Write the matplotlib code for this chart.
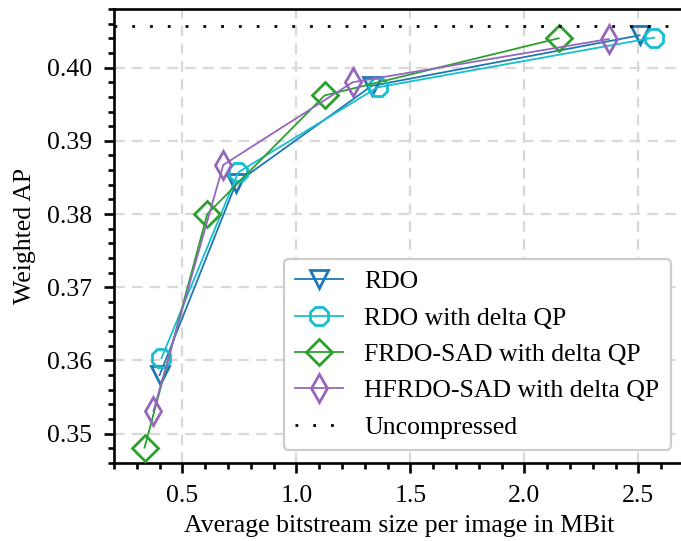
import matplotlib
matplotlib.use("Agg")
import matplotlib.pyplot as plt
from matplotlib.ticker import MultipleLocator

# Data
rdo_x = [0.40, 0.735, 1.33, 2.505]
rdo_y = [0.3580, 0.3842, 0.3975, 0.4044]
rdo_dqp_x = [0.408, 0.745, 1.356, 2.57]
rdo_dqp_y = [0.3603, 0.3857, 0.3973, 0.4041]
frdo_x = [0.334, 0.609, 1.124, 2.15]
frdo_y = [0.3481, 0.3800, 0.3962, 0.4040]
hfrdo_x = [0.373, 0.679, 1.247, 2.37]
hfrdo_y = [0.3531, 0.3867, 0.3980, 0.4039]
uncompressed = 0.4057

labels = ["RDO", "RDO with delta QP", "FRDO-SAD with delta QP",
          "HFRDO-SAD with delta QP", "Uncompressed"]

plt.rcParams['font.family'] = ['Liberation Serif', 'DejaVu Serif']
plt.rcParams['mathtext.fontset'] = 'stix'
FS = 18.5

fig = plt.figure(figsize=(6.81, 5.41), dpi=100)
ax = fig.add_axes([114/681, 78/541, (684-114)/681, (463-9)/541])

ms = 13.5
mew = 2.0
lw = 1.3
ax.plot(rdo_x, rdo_y, marker='v', color='#1f77b4', mfc='none', ms=ms, mew=mew, lw=lw, label=labels[0], zorder=3)
ax.plot(rdo_dqp_x, rdo_dqp_y, marker='8', color='#17becf', mfc='none', ms=ms, mew=mew, lw=lw, label=labels[1], zorder=3)
ax.plot(frdo_x, frdo_y, marker='D', color='#2ca02c', mfc='none', ms=ms*0.95, mew=mew, lw=lw, label=labels[2], zorder=3)
ax.plot(hfrdo_x, hfrdo_y, marker='d', color='#9467bd', mfc='none', ms=ms*1.05, mew=mew, lw=lw, label=labels[3], zorder=3)
ax.axhline(uncompressed, color='black', lw=2.0, linestyle=(0, (1, 5.4)), label=labels[4], zorder=3)

ax.set_xlim(0.2, 2.7)
ax.set_ylim(0.346, 0.408)
ax.xaxis.set_major_locator(MultipleLocator(0.5))
ax.xaxis.set_minor_locator(MultipleLocator(0.1))
ax.yaxis.set_major_locator(MultipleLocator(0.01))
ax.yaxis.set_minor_locator(MultipleLocator(0.002))
ax.xaxis.set_major_formatter(matplotlib.ticker.FormatStrFormatter('%.1f'))
ax.yaxis.set_major_formatter(matplotlib.ticker.FormatStrFormatter('%.2f'))

ax.grid(True, which='major', color='#d9d9d9', lw=1.6, linestyle=(0, (4.8, 3.2)), zorder=0)
ax.set_axisbelow(True)

for s in ax.spines.values():
    s.set_linewidth(1.9)
ax.tick_params(which='both', direction='out', top=False, right=False, width=1.9, labelsize=FS)
ax.tick_params(which='major', length=7)
ax.tick_params(which='minor', length=4)
ax.tick_params(axis='x', which='major', pad=8.5)
ax.tick_params(axis='y', which='major', pad=8.5)

ax.set_xlabel("Average bitstream size per image in MBit", fontsize=FS, labelpad=6)
ax.set_ylabel("Weighted AP", fontsize=FS, labelpad=8)

leg = ax.legend(loc='lower right', fontsize=FS, fancybox=True, framealpha=1.0,
                labelspacing=0.52, handlelength=1.85, handletextpad=0.85,
                borderpad=0.45)
leg.get_frame().set_edgecolor('#cccccc')
leg.get_frame().set_linewidth(1.6)

fig.savefig("out.png", dpi=100)
